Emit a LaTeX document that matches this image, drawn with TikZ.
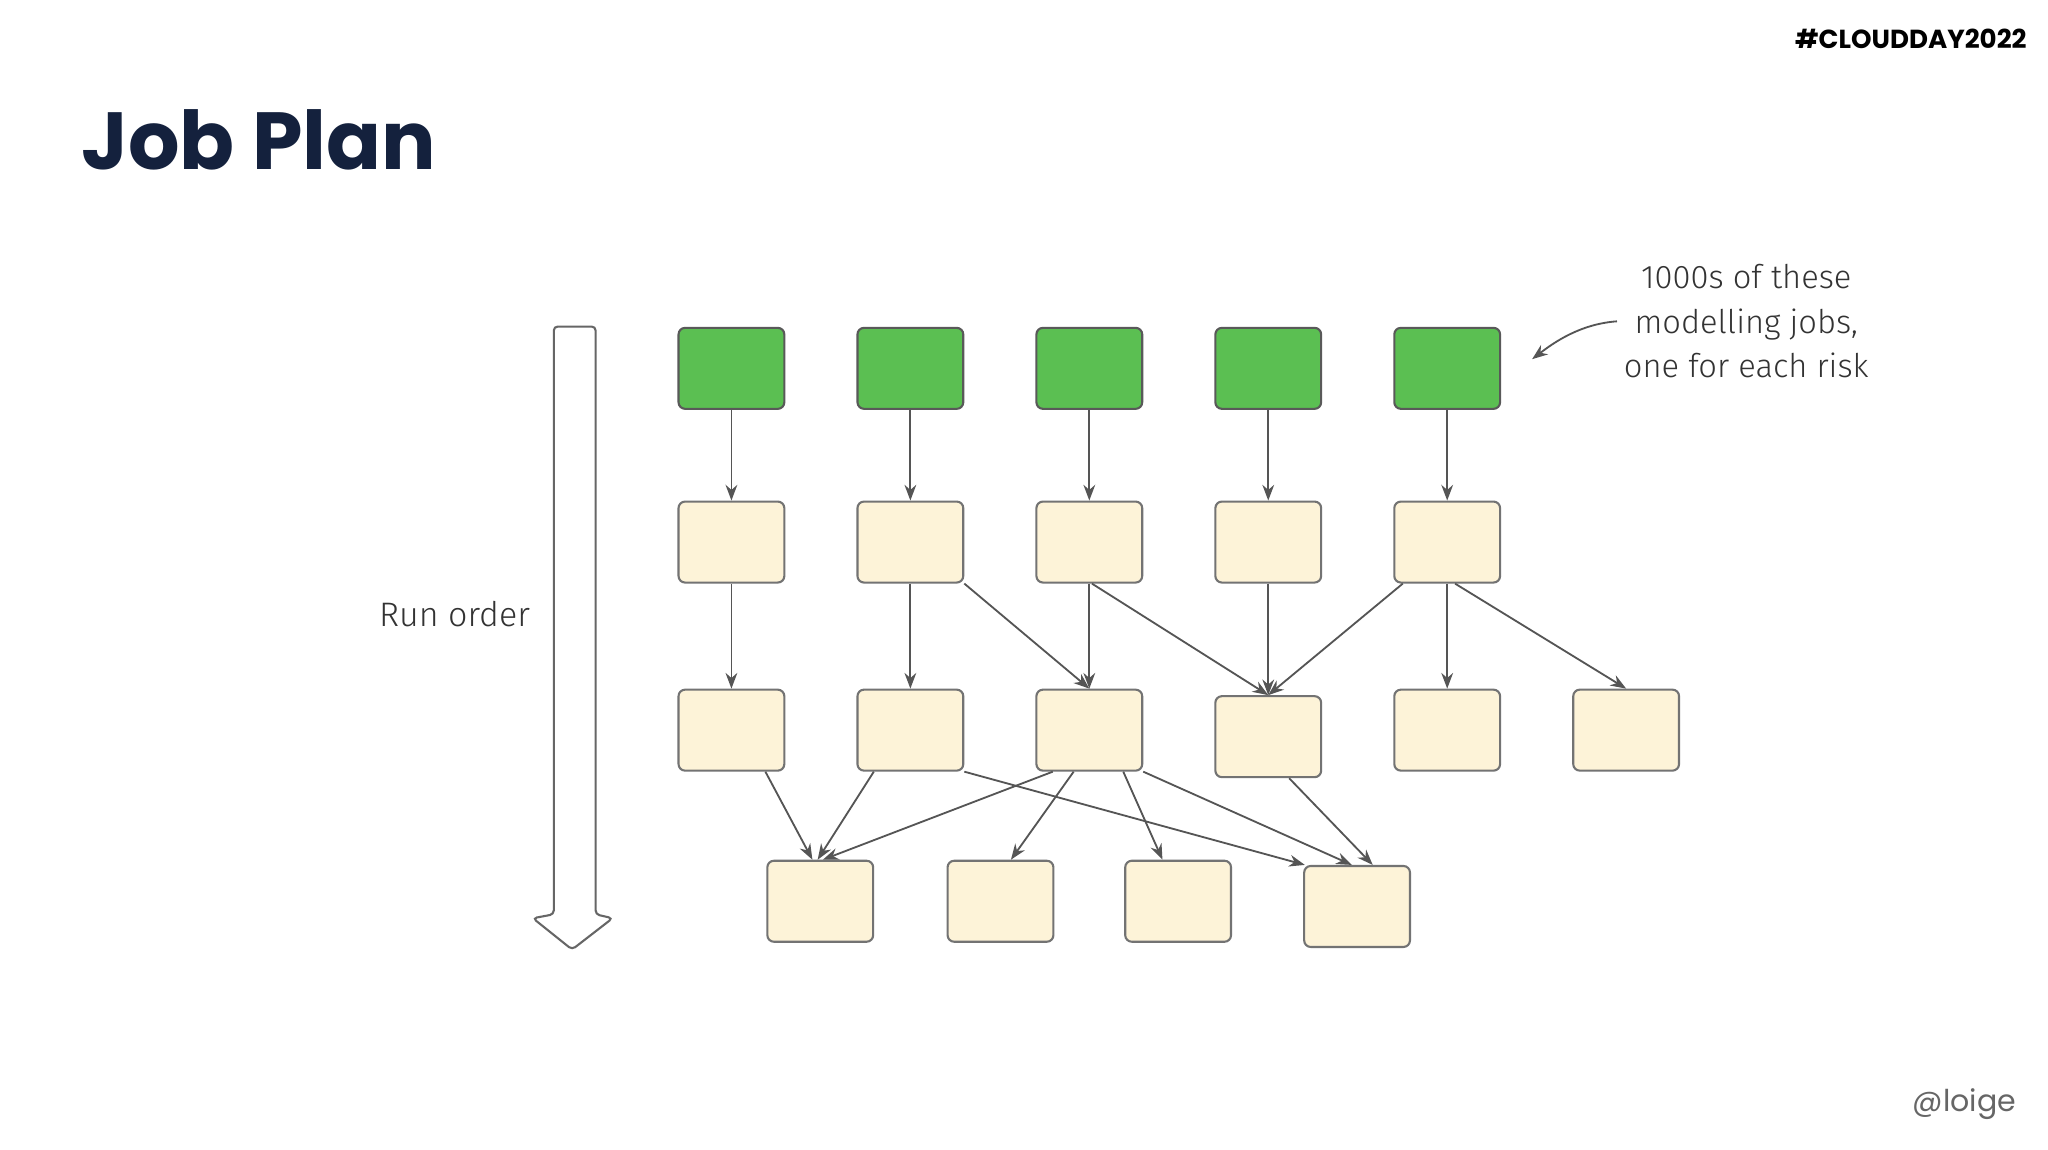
\documentclass[tikz,border=0pt]{standalone}
\usepackage{fontspec}
\setmainfont{Poppins}
\newfontfamily\hand{Fira Sans Light}
\usetikzlibrary{arrows.meta}
\definecolor{navy}{HTML}{14213D}
\definecolor{jgreen}{HTML}{5BBF52}
\definecolor{cream}{HTML}{FDF3D8}
\definecolor{edge}{HTML}{555555}
\begin{document}
\begin{tikzpicture}[x=0.5pt,y=-0.5pt,
  box/.style={draw=gray!90!black,line width=0.8pt,rounded corners=2.5pt,minimum width=40.5pt,minimum height=31pt,inner sep=0pt},
  g/.style={box,fill=jgreen,draw=gray!70!black},
  c/.style={box,fill=cream},
  ar/.style={draw=edge,line width=0.7pt,-{Stealth[length=6pt,width=4.5pt]}}]
\useasboundingbox (0,0) rectangle (1568,880);
\fill[white] (0,0) rectangle (1568,880);
\node[anchor=base west,font=\bfseries\fontsize{31}{36}\selectfont,text=navy,inner sep=0pt] (title) at (62,130) {Job Plan};
\node[anchor=base east,font=\bfseries\fontsize{10}{12}\selectfont,inner sep=0pt] (tag) at (1552,37) {\#CLOUDDAY2022};
\node[anchor=base east,font=\fontsize{11.5}{14}\selectfont,text=gray!80!black,inner sep=0pt] (at) at (1544,851) {@loige};
% big arrow
\draw[gray!80!black,line width=0.8pt,fill=white,rounded corners=1.5pt]
 (424,250) -- (456,250) -- (456,700) -- (469,703) -- (438,727) -- (408,703) -- (424,700) -- cycle;
\node[font=\hand\fontsize{13}{15}\selectfont,text=black!80] (run) at (348,470) {Run order};
% nodes
\foreach \i/\x in {1/560,2/697,3/834,4/971,5/1108}{
  \node[g] (g\i) at (\x,282) {};
  \node[c] (b\i) at (\x,415) {};
}
\node[c] (c1) at (560,559) {};
\node[c] (c2) at (697,559) {};
\node[c] (c3) at (834,559) {};
\node[c] (c4) at (971,564) {};
\node[c] (c5) at (1108,559) {};
\node[c] (c6) at (1245,559) {};
\node[c] (d1) at (628,690) {};
\node[c] (d2) at (766,690) {};
\node[c] (d3) at (902,690) {};
\node[c] (d4) at (1039,694) {};
\foreach \i in {1,...,5}{\draw[ar] (g\i) -- (b\i);}
\draw[ar] (b1) -- (c1);
\draw[ar] (b2) -- (c2);
\draw[ar] (b2.south east) -- (c3.north);
\draw[ar] (b3) -- (c3);
\draw[ar] ([xshift=1pt]b3.south) -- (c4.north);
\draw[ar] (b4) -- (c4);
\draw[ar] ([xshift=-17pt]b5.south) -- (c4.north);
\draw[ar] (b5) -- (c5);
\draw[ar] ([xshift=3pt]b5.south) -- (c6.north);
\draw[ar] ([xshift=13pt]c1.south) -- ([xshift=-3pt]d1.north);
\draw[ar] ([xshift=-14pt]c2.south) -- ([xshift=-1pt]d1.north);
\draw[ar] (c2.south east) -- ([xshift=-20pt]d4.north);
\draw[ar] ([xshift=-14pt]c3.south) -- ([xshift=1pt]d1.north);
\draw[ar] ([xshift=-6pt]c3.south) -- ([xshift=4pt]d2.north);
\draw[ar] ([xshift=13pt]c3.south) -- ([xshift=-6pt]d3.north);
\draw[ar] (c3.south east) -- ([xshift=-2pt]d4.north);
\draw[ar] ([xshift=8pt]c4.south) -- ([xshift=6pt]d4.north);
% annotation
\node[font=\hand\fontsize{12.5}{17}\selectfont,text=black!80,align=center] (note) at (1337,246) {1000s of these\\modelling jobs,\\one for each risk};
\coordinate (tip) at (1173,275);
\draw[ar] (1238,246) .. controls (1210,248) and (1190,262) .. (tip);
\end{tikzpicture}
\end{document}
